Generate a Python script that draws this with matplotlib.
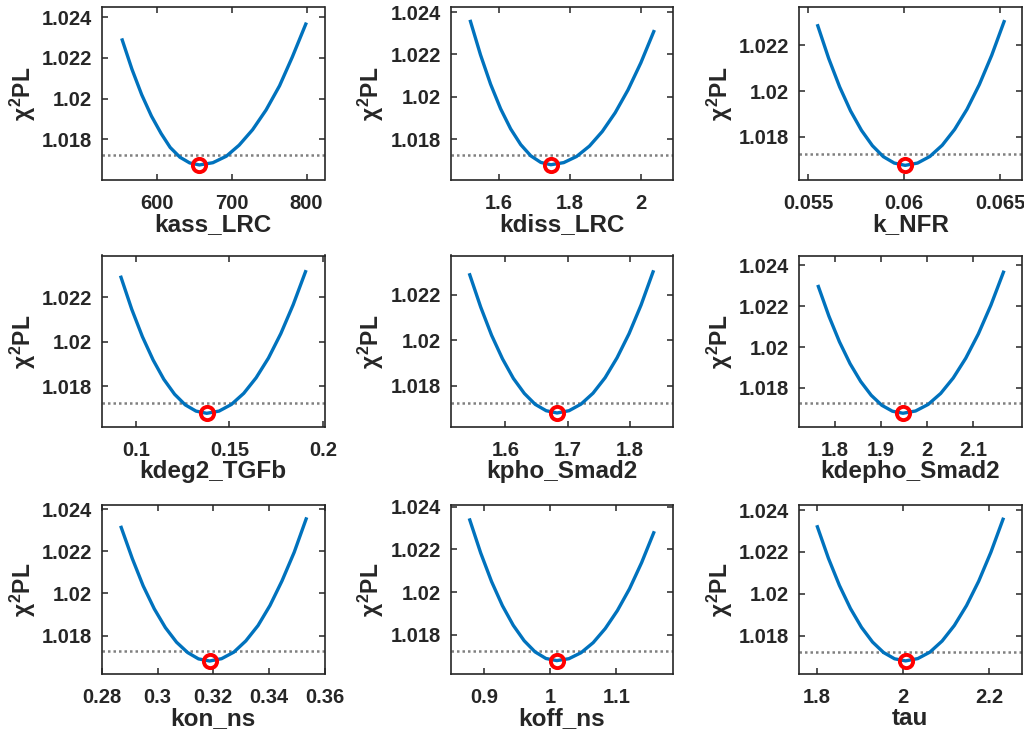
import numpy as np
import matplotlib
matplotlib.use("Agg")
import matplotlib.pyplot as plt
from matplotlib.ticker import FuncFormatter

plt.rcParams['font.family'] = ['Liberation Sans', 'DejaVu Sans']
plt.rcParams['font.weight'] = 'bold'
plt.rcParams['mathtext.fontset'] = 'custom'
plt.rcParams['mathtext.rm'] = 'Liberation Sans:bold'
plt.rcParams['mathtext.it'] = 'Liberation Sans:bold'
plt.rcParams['mathtext.bf'] = 'Liberation Sans:bold'

# parameter names
names = ['kass_LRC', 'kdiss_LRC', 'k_NFR',
         'kdeg2_TGFb', 'kpho_Smad2', 'kdepho_Smad2',
         'kon_ns', 'koff_ns', 'tau']

# profile likelihood curves
px_kass = [554, 567, 580, 593, 606, 618, 631, 644, 657,
           675, 693, 710, 728, 746, 764, 781, 799]
py_kass = [1.02288, 1.02144, 1.02019, 1.01914, 1.01828, 1.01760, 1.01712, 1.01684, 1.01674,
           1.01685, 1.01717, 1.01771, 1.01847, 1.01944, 1.02063, 1.02204, 1.02366]

px_kdiss = [1.5207, 1.5490, 1.5773, 1.6055, 1.6338, 1.6621, 1.6904, 1.7186, 1.7469,
            1.7831, 1.8193, 1.8555, 1.8917, 1.9278, 1.9640, 2.0002, 2.0364]
py_kdiss = [1.02356, 1.02198, 1.02060, 1.01944, 1.01849, 1.01775, 1.01722, 1.01691, 1.01680,
            1.01690, 1.01719, 1.01768, 1.01837, 1.01925, 1.02033, 1.02161, 1.02308]

px_knfr = [0.05549, 0.05606, 0.05663, 0.05720, 0.05777, 0.05834, 0.05891, 0.05948, 0.06005,
           0.060695, 0.06134, 0.061985, 0.06263, 0.063275, 0.06392, 0.064565, 0.06521]
py_knfr = [1.02286, 1.02143, 1.02019, 1.01914, 1.01829, 1.01762, 1.01714, 1.01686, 1.01676,
           1.01686, 1.01715, 1.01764, 1.01833, 1.01921, 1.02029, 1.02157, 1.02304]

px_kdeg2 = [0.09196, 0.09770, 0.10343, 0.10917, 0.11490, 0.12064, 0.12637, 0.13211, 0.13784,
            0.14445, 0.15106, 0.15767, 0.16428, 0.17090, 0.17751, 0.18412, 0.19073]
py_kdeg2 = [1.02290, 1.02146, 1.02022, 1.01917, 1.01830, 1.01763, 1.01715, 1.01687, 1.01677,
            1.01687, 1.01717, 1.01767, 1.01837, 1.01926, 1.02036, 1.02166, 1.02315]

px_kpho = [1.5426, 1.5602, 1.5777, 1.5953, 1.6128, 1.6304, 1.6479, 1.6655, 1.6830,
           1.7023, 1.7216, 1.7409, 1.7603, 1.7796, 1.7989, 1.8182, 1.8375]
py_kpho = [1.02288, 1.02146, 1.02022, 1.01918, 1.01832, 1.01766, 1.01718, 1.01690, 1.01680,
           1.01690, 1.01719, 1.01767, 1.01835, 1.01923, 1.02029, 1.02155, 1.02301]

px_kdepho = [1.7636, 1.7866, 1.8095, 1.8325, 1.8555, 1.8784, 1.9014, 1.9243, 1.9473,
             1.9746, 2.0018, 2.0291, 2.0564, 2.0836, 2.1109, 2.1381, 2.1654]
py_kdepho = [1.02297, 1.02151, 1.02025, 1.01918, 1.01831, 1.01763, 1.01714, 1.01685, 1.01675,
             1.01686, 1.01718, 1.01772, 1.01848, 1.01945, 1.02064, 1.02205, 1.02367]

px_kon = [0.2869, 0.2909, 0.2948, 0.2988, 0.3028, 0.3068, 0.3108, 0.3147, 0.3187,
          0.3230, 0.3274, 0.3317, 0.3361, 0.3404, 0.3447, 0.3491, 0.3534]
py_kon = [1.02313, 1.02165, 1.02036, 1.01927, 1.01838, 1.01769, 1.01720, 1.01690, 1.01680,
          1.01691, 1.01722, 1.01775, 1.01848, 1.01943, 1.02059, 1.02195, 1.02353]

px_koff = [0.8789, 0.8953, 0.9117, 0.9281, 0.9445, 0.9609, 0.9773, 0.9937, 1.0101,
           1.0284, 1.0467, 1.0650, 1.0832, 1.1015, 1.1198, 1.1380, 1.1563]
py_koff = [1.02338, 1.02184, 1.02050, 1.01937, 1.01845, 1.01773, 1.01721, 1.01690, 1.01680,
           1.01689, 1.01717, 1.01764, 1.01830, 1.01914, 1.02016, 1.02138, 1.02278]

px_tau = [1.8014, 1.8270, 1.8526, 1.8782, 1.9039, 1.9295, 1.9551, 1.9807, 2.0063,
          2.0346, 2.0629, 2.0912, 2.1195, 2.1478, 2.1760, 2.2043, 2.2326]
py_tau = [1.02320, 1.02170, 1.02040, 1.01930, 1.01840, 1.01770, 1.01720, 1.01690, 1.01680,
          1.01691, 1.01722, 1.01775, 1.01849, 1.01944, 1.02060, 1.02198, 1.02356]

curves_x = [px_kass, px_kdiss, px_knfr, px_kdeg2, px_kpho, px_kdepho, px_kon, px_koff, px_tau]
curves_y = [py_kass, py_kdiss, py_knfr, py_kdeg2, py_kpho, py_kdepho, py_kon, py_koff, py_tau]

# best fit (red circle) and threshold (dotted line)
best_x = [657, 1.7469, 0.06005, 0.13784, 1.683, 1.9473, 0.3187, 1.0101, 2.0063]
best_y = [1.01674, 1.0168, 1.01676, 1.01677, 1.0168, 1.01675, 1.0168, 1.0168, 1.0168]
thresh = [1.01723, 1.01726, 1.01724, 1.01725, 1.01724, 1.01724, 1.01727, 1.01725, 1.01724]

# axis limits and ticks
xlims = [(527, 824), (1.4645, 2.0906), (0.05451, 0.06612),
         (0.08179, 0.2009), (1.5116, 1.8696), (1.7216, 2.2046),
         (0.28, 0.36), (0.8498, 1.1854), (1.7587, 2.2755)]
ylims = [(1.0160, 1.0245), (1.01608, 1.02424), (1.01612, 1.02368),
         (1.01614, 1.02388), (1.01617, 1.02373), (1.01606, 1.02449),
         (1.01617, 1.02419), (1.01616, 1.02408), (1.01616, 1.02424)]
xticks = [[600, 700, 800], [1.6, 1.8, 2], [0.055, 0.06, 0.065],
          [0.1, 0.15, 0.2], [1.6, 1.7, 1.8], [1.8, 1.9, 2, 2.1],
          [0.28, 0.3, 0.32, 0.34, 0.36], [0.9, 1, 1.1], [1.8, 2, 2.2]]
yticks = [1.018, 1.02, 1.022, 1.024]

W, H = 1024, 742
fig = plt.figure(figsize=(W / 100, H / 100), dpi=100)

col_left = [102, 450.5, 799]
col_w = 222.5
row_top = [7, 255.5, 505]
row_bot = [180, 427.3, 674.3]

fmt = FuncFormatter(lambda v, p: '%g' % v)
dark = (0.15, 0.15, 0.15)

for i in range(9):
    r, c = divmod(i, 3)
    ax = fig.add_axes([col_left[c] / W, 1 - row_bot[r] / H,
                       col_w / W, (row_bot[r] - row_top[r]) / H])
    ax.plot(curves_x[i], curves_y[i], color=(0, 0.447, 0.741), lw=2.4, zorder=2)
    ax.axhline(thresh[i], color=(0.5, 0.5, 0.5), ls=(0, (1, 1.2)), lw=1.8, zorder=1)
    ax.plot(best_x[i], best_y[i], 'o', mfc='none', mec='red', mew=2.8, ms=9.5, zorder=3)

    ax.set_xlim(xlims[i])
    ax.set_ylim(ylims[i])
    ax.set_xticks(xticks[i])
    ax.set_yticks([t for t in yticks if ylims[i][0] <= t <= ylims[i][1]])
    ax.xaxis.set_major_formatter(fmt)
    ax.yaxis.set_major_formatter(fmt)
    ax.tick_params(direction='in', top=True, right=True, length=4, width=1.1,
                   labelsize=14.5, colors=dark)
    ax.tick_params(axis='x', pad=10)
    ax.tick_params(axis='y', pad=7)
    for s in ax.spines.values():
        s.set_linewidth(1.2)
        s.set_color(dark)
    ax.set_xlabel(names[i], fontsize=17.5, fontweight='bold', color=dark, labelpad=0)
    ax.set_ylabel(r'$\chi^{2}$PL', fontsize=16.5, fontweight='bold', color=dark, labelpad=3)

fig.savefig('out.png', dpi=100)
